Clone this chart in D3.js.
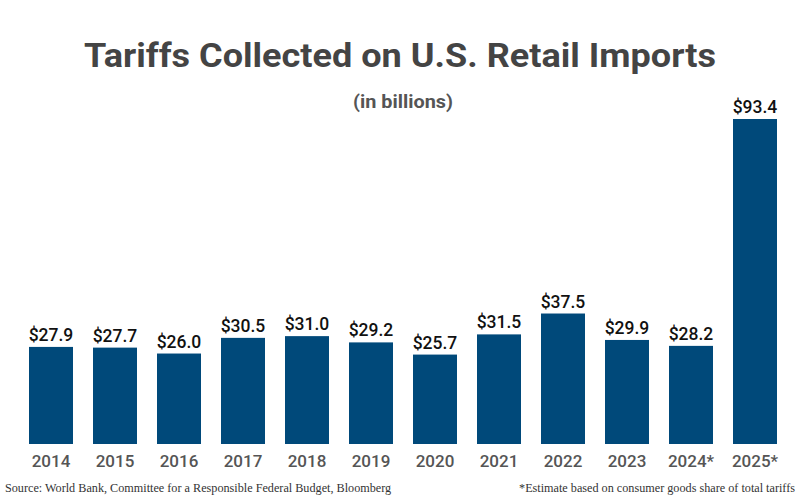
<!DOCTYPE html>
<html>
<head>
<meta charset="utf-8">
<script src="https://cdn.jsdelivr.net/npm/d3@7"></script>
<style>
  body { margin: 0; background: #fff; }
  svg { display: block; }
</style>
</head>
<body>
<div id="chart"></div>
<script>
// data
const years = ["2014", "2015", "2016", "2017", "2018", "2019", "2020", "2021", "2022", "2023", "2024*", "2025*"];
const tariffs = [27.9, 27.7, 26.0, 30.5, 31.0, 29.2, 25.7, 31.5, 37.5, 29.9, 28.2, 93.4];

const width = 800, height = 500;
const baseY = 444;

const svg = d3.select("#chart").append("svg")
    .attr("width", width)
    .attr("height", height);

const data = years.map((y, i) => ({ year: y, value: tariffs[i] }));

// scales
const x = d3.scaleBand()
    .domain(years)
    .range([19, 787])
    .paddingInner(0.3125)
    .paddingOuter(0.15625);

const y = d3.scaleLinear()
    .domain([0, 93.4])
    .range([baseY, 119]);

// bars
svg.selectAll("rect.bar")
    .data(data)
    .enter()
    .append("rect")
    .attr("class", "bar")
    .attr("x", d => x(d.year))
    .attr("y", d => y(d.value))
    .attr("width", x.bandwidth())
    .attr("height", d => baseY - y(d.value))
    .attr("fill", "#00497a");

// value labels
svg.selectAll("text.val")
    .data(data)
    .enter()
    .append("text")
    .attr("class", "val")
    .attr("x", d => x(d.year) + x.bandwidth() / 2)
    .attr("y", d => y(d.value) - 6)
    .attr("text-anchor", "middle")
    .style("font-family", "Roboto, sans-serif")
    .style("font-weight", 500)
    .style("font-size", "17.5px")
    .attr("fill", "#111")
    .text(d => "$" + d.value.toFixed(1));

// x axis
const xAxis = svg.append("g")
    .attr("transform", `translate(0, ${baseY})`)
    .call(d3.axisBottom(x).tickSize(0).tickPadding(11));
xAxis.select(".domain").remove();
xAxis.selectAll("text")
    .style("font-family", "Roboto, sans-serif")
    .style("font-weight", 500)
    .style("font-size", "17px")
    .attr("fill", "#555");

// title
svg.append("text")
    .attr("x", width / 2)
    .attr("y", 67)
    .attr("text-anchor", "middle")
    .attr("textLength", 632)
    .attr("lengthAdjust", "spacingAndGlyphs")
    .style("font-family", "Roboto, sans-serif")
    .style("font-weight", 700)
    .style("font-size", "34px")
    .attr("fill", "#444")
    .text("Tariffs Collected on U.S. Retail Imports");

svg.append("text")
    .attr("x", 403)
    .attr("y", 108)
    .attr("text-anchor", "middle")
    .attr("textLength", 100)
    .attr("lengthAdjust", "spacingAndGlyphs")
    .style("font-family", "Roboto, sans-serif")
    .style("font-weight", 700)
    .style("font-size", "19px")
    .attr("fill", "#555")
    .text("(in billions)");

// footnotes
svg.append("text")
    .attr("x", 5)
    .attr("y", 492)
    .style("font-family", "'Liberation Serif', serif")
    .style("font-size", "12.2px")
    .attr("fill", "#333")
    .text("Source: World Bank, Committee for a Responsible Federal Budget, Bloomberg");

svg.append("text")
    .attr("x", 795)
    .attr("y", 492)
    .attr("text-anchor", "end")
    .style("font-family", "'Liberation Serif', serif")
    .style("font-size", "12.2px")
    .attr("fill", "#333")
    .text("*Estimate based on consumer goods share of total tariffs");
</script>
</body>
</html>
